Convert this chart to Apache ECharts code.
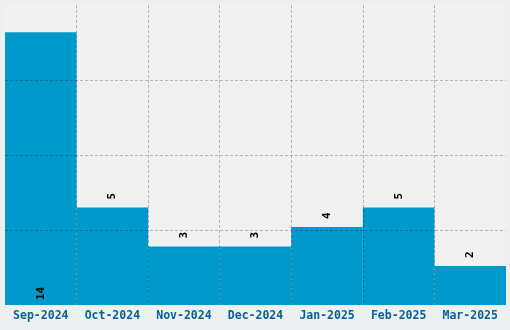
<!DOCTYPE html>
<html>
<head>
<meta charset="utf-8">
<script src="https://cdn.jsdelivr.net/npm/echarts@6/dist/echarts.min.js"></script>
<style>
html,body{margin:0;padding:0;background:#ecf0f1;}
#chart{width:510px;height:330px;}
</style>
</head>
<body>
<div id="chart"></div>
<script>
const categories = ['Sep-2024','Oct-2024','Nov-2024','Dec-2024','Jan-2025','Feb-2025','Mar-2025'];
const values = [14, 5, 3, 3, 4, 5, 2];
const yMax = 15.4;
const yInterval = 3.85;

const maxVal = Math.max(...values);
const chart = echarts.init(document.getElementById('chart'));
const font = '"DejaVu Sans Mono", "Liberation Mono", monospace';
const gridLine = {show: true, showMinLine: false, showMaxLine: false, lineStyle: {color: 'rgba(0,0,0,0.24)', type: [3, 2], width: 1}};
chart.setOption({
  backgroundColor: '#ecf0f1',
  animation: false,
  grid: {left: 5, right: 4, top: 5, bottom: 25, show: true, backgroundColor: '#f1f1f1', borderWidth: 0},
  xAxis: {
    type: 'category',
    data: categories,
    z: 10,
    axisLine: {show: false},
    axisTick: {show: false},
    axisLabel: {interval: 0, color: '#0a5f96', fontFamily: font, fontWeight: 'bold', fontSize: 11.5, margin: 5},
    splitLine: Object.assign({interval: 0}, gridLine)
  },
  yAxis: {
    type: 'value',
    min: 0, max: yMax, interval: yInterval,
    z: 10,
    axisLine: {show: false},
    axisTick: {show: false},
    axisLabel: {show: false},
    splitLine: gridLine
  },
  series: [{
    type: 'bar',
    barCategoryGap: 0,
    barGap: 0,
    itemStyle: {color: '#0099cc'},
    data: values.map(v => ({
      value: v,
      label: v === maxVal ? {position: 'insideBottom', distance: 5} : {position: 'top', distance: 8}
    })),
    label: {
      show: true,
      rotate: 90,
      align: 'left',
      verticalAlign: 'middle',
      color: '#000',
      fontFamily: font,
      fontWeight: 'bold',
      fontSize: 11
    }
  }]
});
</script>
</body>
</html>
